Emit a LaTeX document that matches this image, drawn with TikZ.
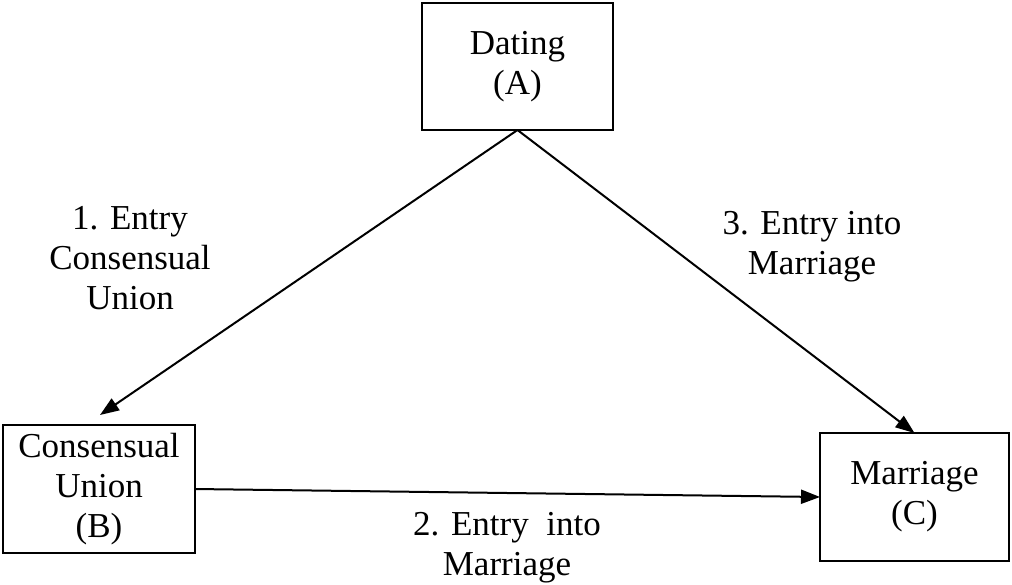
\documentclass[tikz,border=0pt]{standalone}
\usepackage{fontspec}
\setmainfont{Liberation Serif}
\usetikzlibrary{arrows.meta}
\begin{document}
\begin{tikzpicture}[x=1pt,y=-1pt,
  box/.style={draw, line width=2pt, inner sep=0pt, outer sep=0pt, align=center,
    font=\fontsize{35}{40}\selectfont},
  lbl/.style={align=center, anchor=base, inner sep=0pt, font=\fontsize{35}{40}\selectfont},
  arr/.style={line width=2pt, -{Triangle[length=19pt,width=14pt]}}]
\useasboundingbox (0,0) rectangle (1012,584);
\node[box, minimum width=191pt, minimum height=127pt] (A) at (517.5,66.5) {Dating\\(A)};
\node[box, minimum width=192pt, minimum height=128pt] (B) at (99,489) {Consensual\\Union\\(B)};
\node[box, minimum width=189pt, minimum height=128pt] (C) at (914.5,497) {Marriage\\(C)};
\coordinate (b1) at (100,415);
\draw[arr] (A.south) -- (b1);
\draw[arr] (A.south) -- (C.north);
\draw[arr] (B.east) -- (C.west);
\node[lbl] (l1) at (130,309) {1. Entry\\Consensual\\Union};
\node[lbl] (l3) at (812,274) {3. Entry into\\Marriage};
\node[lbl] (l2) at (507,575) {2. Entry\ \ into\\Marriage};
\end{tikzpicture}
\end{document}
